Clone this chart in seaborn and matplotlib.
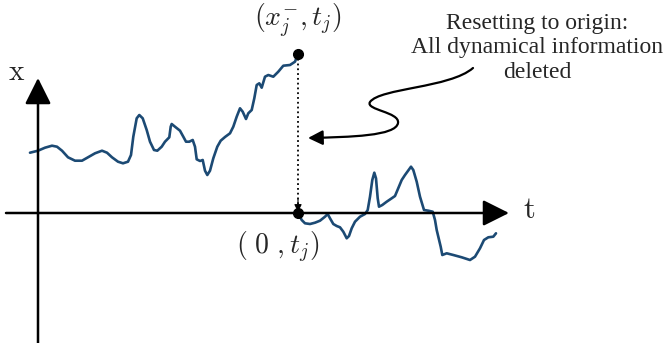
import numpy as np
import pandas as pd
import matplotlib.pyplot as plt
import seaborn as sns
from matplotlib.path import Path
from matplotlib.patches import FancyArrowPatch

sns.set_style("white")
plt.rcParams['font.family'] = ['Liberation Serif', 'DejaVu Serif']
plt.rcParams['mathtext.fontset'] = 'cm'

# trajectory before the reset (t, x)
t_before = [-8, 0, 7, 14, 19, 24, 30, 37, 44, 50, 57, 64, 69, 74, 80, 85, 90, 93, 95.3, 98.7,
            101.3, 104.7, 108.7, 112, 116, 119.3, 123.7, 127, 131.3, 132.7, 133.7, 137, 142, 145.3,
            148, 151.3, 154.7, 157, 158.7, 162, 164.7, 167, 169.3, 172, 175.3, 179.3, 182.7, 187,
            192, 195.3, 198.7, 202, 204.7, 208, 210.3, 213.7, 216.3, 218.7, 221.3, 223.7, 227,
            230.3, 235.3, 240.3, 245.3, 252, 257, 260]
x_before = [60.3, 62.3, 65.3, 67.3, 66.3, 62.3, 55.7, 52.3, 52.3, 55.7, 59.7, 62.3, 60.3, 55.7,
            51.3, 49.7, 51.3, 58, 76.3, 94.7, 98, 94.7, 83, 71.3, 63, 62.3, 66.3, 71.3, 75.7, 86.3,
            89, 86.3, 82.3, 76.3, 71.3, 71.3, 73, 66.3, 53.7, 52, 53, 42.3, 38, 42.3, 54.7, 66.3,
            72.3, 76, 79.7, 86.3, 96.3, 104.7, 101.3, 94, 99.7, 103, 114.7, 128, 129.7, 125.3,
            136.3, 138, 136.3, 141.3, 147.3, 148, 151.3, 159]

# trajectory after the reset
t_after = [260, 263.7, 267, 272, 277, 282, 287, 289.7, 292, 295.3, 298.7, 302, 305.3, 308.7, 311,
           313.7, 317, 322, 327, 329.7, 332, 334.3, 336.3, 338, 339.7, 341, 344.3, 348.7, 353.7,
           357, 363.7, 367, 373, 375.3, 378.7, 382, 386, 390.3, 394.7, 397, 398.7, 400.3, 402.7,
           404.3, 408.7, 415.3, 423.7, 432, 437, 442, 446, 450.3, 455.3, 458]
x_after = [0, -7, -10.3, -11, -9.7, -7.7, -3.7, -1, -5.3, -11, -13, -14.3, -18.7, -25.3, -23,
           -15.3, -8.7, -3.7, -1, 3, 16.3, 33, 40.3, 34.7, 14.7, 6.3, 8, 11.3, 14.7, 17, 33, 38,
           46.3, 43, 31.3, 16.3, 3, 2.3, 1.3, -7, -17, -23.7, -33.7, -42, -40.3, -42, -44.3, -47,
           -43.7, -35.3, -27, -24.3, -23.7, -20.3]

t_reset = 260
x_reset = 159

line_color = '#1c4a74'

fig = plt.figure(figsize=(6.67, 3.43), dpi=100)
ax = fig.add_axes([0, 0, 1, 1])
ax.set_xlim(-38, 629)
ax.set_ylim(-130, 213)
ax.axis('off')

df1 = pd.DataFrame({'t': t_before, 'x': x_before})
df2 = pd.DataFrame({'t': t_after, 'x': x_after})
for df in (df1, df2):
    sns.lineplot(data=df, x='t', y='x', sort=False, estimator=None, color=line_color,
                 lw=1.9, solid_joinstyle='round', solid_capstyle='round', ax=ax)

# axes arrows
ax.annotate('', xy=(471, 0), xytext=(-32, 0),
            arrowprops=dict(arrowstyle='-|>,head_length=0.4,head_width=0.2', mutation_scale=40,
                            lw=1.8, color='black', shrinkA=0, shrinkB=0))
ax.annotate('', xy=(0, 135), xytext=(0, -131),
            arrowprops=dict(arrowstyle='-|>,head_length=0.4,head_width=0.2', mutation_scale=40,
                            lw=1.8, color='black', shrinkA=0, shrinkB=0))
ax.text(-21, 140, r'$\mathrm{x}$', fontsize=21, ha='center', va='center')
ax.text(491, 3, r'$\mathrm{t}$', fontsize=22, ha='center', va='center')

# reset: dotted drop to origin
ax.plot([t_reset, t_reset], [x_reset, 0], ls=':', color='black', lw=1.3)
ax.annotate('', xy=(t_reset, 1), xytext=(t_reset, 14),
            arrowprops=dict(arrowstyle='-|>', mutation_scale=11, lw=0.8, color='black',
                            shrinkA=0, shrinkB=0))
ax.plot([t_reset, t_reset], [x_reset, 0], 'o', color='black', ms=7)

ax.text(t_reset, 193, r'$(x_j^{-}, t_j)$', fontsize=20, ha='center', va='center')
ax.text(240, -34, r'$(\ 0\ , t_j)$', fontsize=20, ha='center', va='center')

ax.text(499, 165, 'Resetting to origin:\nAll dynamical information\ndeleted',
        fontsize=17, ha='center', va='center', linespacing=1.22)

# curly arrow
verts = [(435, 145), (412, 125), (342, 125), (332, 111),
         (327, 103), (362, 101), (360, 90),
         (358, 77), (312, 76), (270, 75)]
codes = [Path.MOVETO] + [Path.CURVE4] * 9
curl = FancyArrowPatch(path=Path(verts, codes), arrowstyle='-|>', mutation_scale=22,
                       lw=1.6, color='black')
ax.add_patch(curl)

fig.savefig('out.png', dpi=100)
